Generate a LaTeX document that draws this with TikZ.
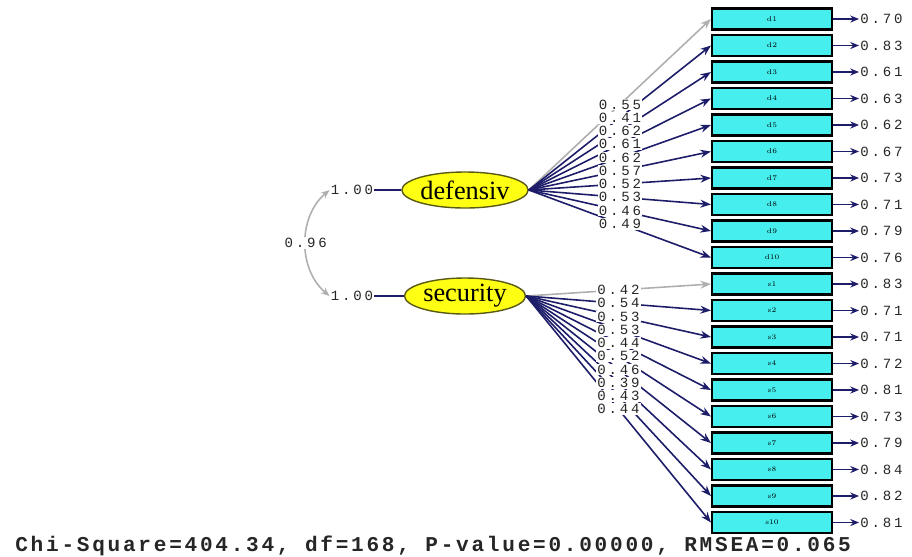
\documentclass[tikz,border=0pt]{standalone}
\usepackage{fontspec}
\usetikzlibrary{shapes.geometric,arrows.meta}
\newfontfamily\numfont{Liberation Mono}[LetterSpace=20]
\newfontfamily\fitfont{Liberation Mono}[LetterSpace=13]
\newfontfamily\latfont{Liberation Serif}
\definecolor{pathblue}{RGB}{28,28,105}
\definecolor{fixgrey}{RGB}{175,175,175}
\definecolor{boxcyan}{RGB}{70,238,238}
\definecolor{latyellow}{RGB}{255,255,20}
\definecolor{latrim}{RGB}{90,90,20}
\tikzset{
  obs/.style={draw=black, line width=1.2pt, fill=boxcyan, shape=rectangle,
    minimum width=2.4cm, minimum height=0.42cm, inner sep=0pt,
    font=\fontsize{4}{4}\selectfont},
  lat/.style={draw=latrim, line width=0.8pt, fill=latyellow, shape=ellipse,
    minimum width=2.42cm, minimum height=0.72cm, inner sep=0pt,
    font=\latfont\fontsize{15}{15}\selectfont},
  num/.style={font=\numfont\fontsize{8}{8}\selectfont, text=black!85, inner sep=0.6pt},
  load/.style={draw=pathblue, line width=0.9pt, -{Stealth[length=6pt,width=4.5pt]}},
  fixload/.style={load, draw=fixgrey},
  errarr/.style={draw=pathblue, line width=1pt, -{Stealth[length=5pt,width=4pt]}},
  corr/.style={draw=fixgrey, line width=0.9pt, {Stealth[length=5pt,width=4pt]}-{Stealth[length=5pt,width=4pt]}}
}

\begin{document}
\begin{tikzpicture}[x=0.02cm,y=-0.02cm]
   \useasboundingbox (0,0) rectangle (912,556);

   % observed variables
   \foreach \i in {1,...,10} {
     \path (772,{19+26.5*(\i-1)}) node[obs] (D\i) {d\i};
     \path (772,{284+26.5*(\i-1)}) node[obs] (S\i) {s\i};
   }

   % latent variables
   \path (465,190) node[lat] (Def) {defensiv};
   \path (465,296) node[lat] (Sec) {security};
   \path (352,190) node[num] (DefV) {1.00};
   \path (352,296) node[num] (SecV) {1.00};
   \draw[pathblue, line width=1pt] (DefV) -- (Def);
   \draw[pathblue, line width=1pt] (SecV) -- (Sec);
   \draw[corr] (DefV.west) to[bend right=50] node[num, fill=white] (Cor) {0.96} (SecV.west);

   % loadings
   \draw[fixload] (Def.east) -- coordinate[pos=0.5] (Dm1) (D1.west);
   \draw[fixload] (Sec.east) -- coordinate[pos=0.5] (Sm1) (S1.west);
   \foreach \i in {2,...,10} {
     \draw[load] (Def.east) -- coordinate[pos=0.5] (Dm\i) (D\i.west);
     \draw[load] (Sec.east) -- coordinate[pos=0.5] (Sm\i) (S\i.west);
   }
   \foreach \i/\v in {1/0.55,2/0.41,3/0.62,4/0.61,5/0.62,6/0.57,7/0.52,8/0.53,9/0.46,10/0.49}
     \path (Dm\i) node[num, fill=white] (Dl\i) {\v};
   \foreach \i/\v in {1/0.42,2/0.54,3/0.53,4/0.53,5/0.44,6/0.52,7/0.46,8/0.39,9/0.43,10/0.44}
     \path (Sm\i) node[num, fill=white] (Sl\i) {\v};

   % error variances
   \foreach \i/\v in {1/0.70,2/0.83,3/0.61,4/0.63,5/0.62,6/0.67,7/0.73,8/0.71,9/0.79,10/0.76} {
     \path (D\i.east) ++(26,0) node[num, anchor=west] (De\i) {\v};
     \draw[errarr] (D\i.east) -- (De\i.west);
   }
   \foreach \i/\v in {1/0.83,2/0.71,3/0.71,4/0.72,5/0.81,6/0.73,7/0.79,8/0.84,9/0.82,10/0.81} {
     \path (S\i.east) ++(26,0) node[num, anchor=west] (Se\i) {\v};
     \draw[errarr] (S\i.east) -- (Se\i.west);
   }

   \path (15,546) node[anchor=west, inner sep=0pt, text=black!85,
     font=\fitfont\bfseries\fontsize{12}{12}\selectfont] (Fit)
     {Chi-Square=404.34, df=168, P-value=0.00000, RMSEA=0.065};
\end{tikzpicture}
\end{document}
